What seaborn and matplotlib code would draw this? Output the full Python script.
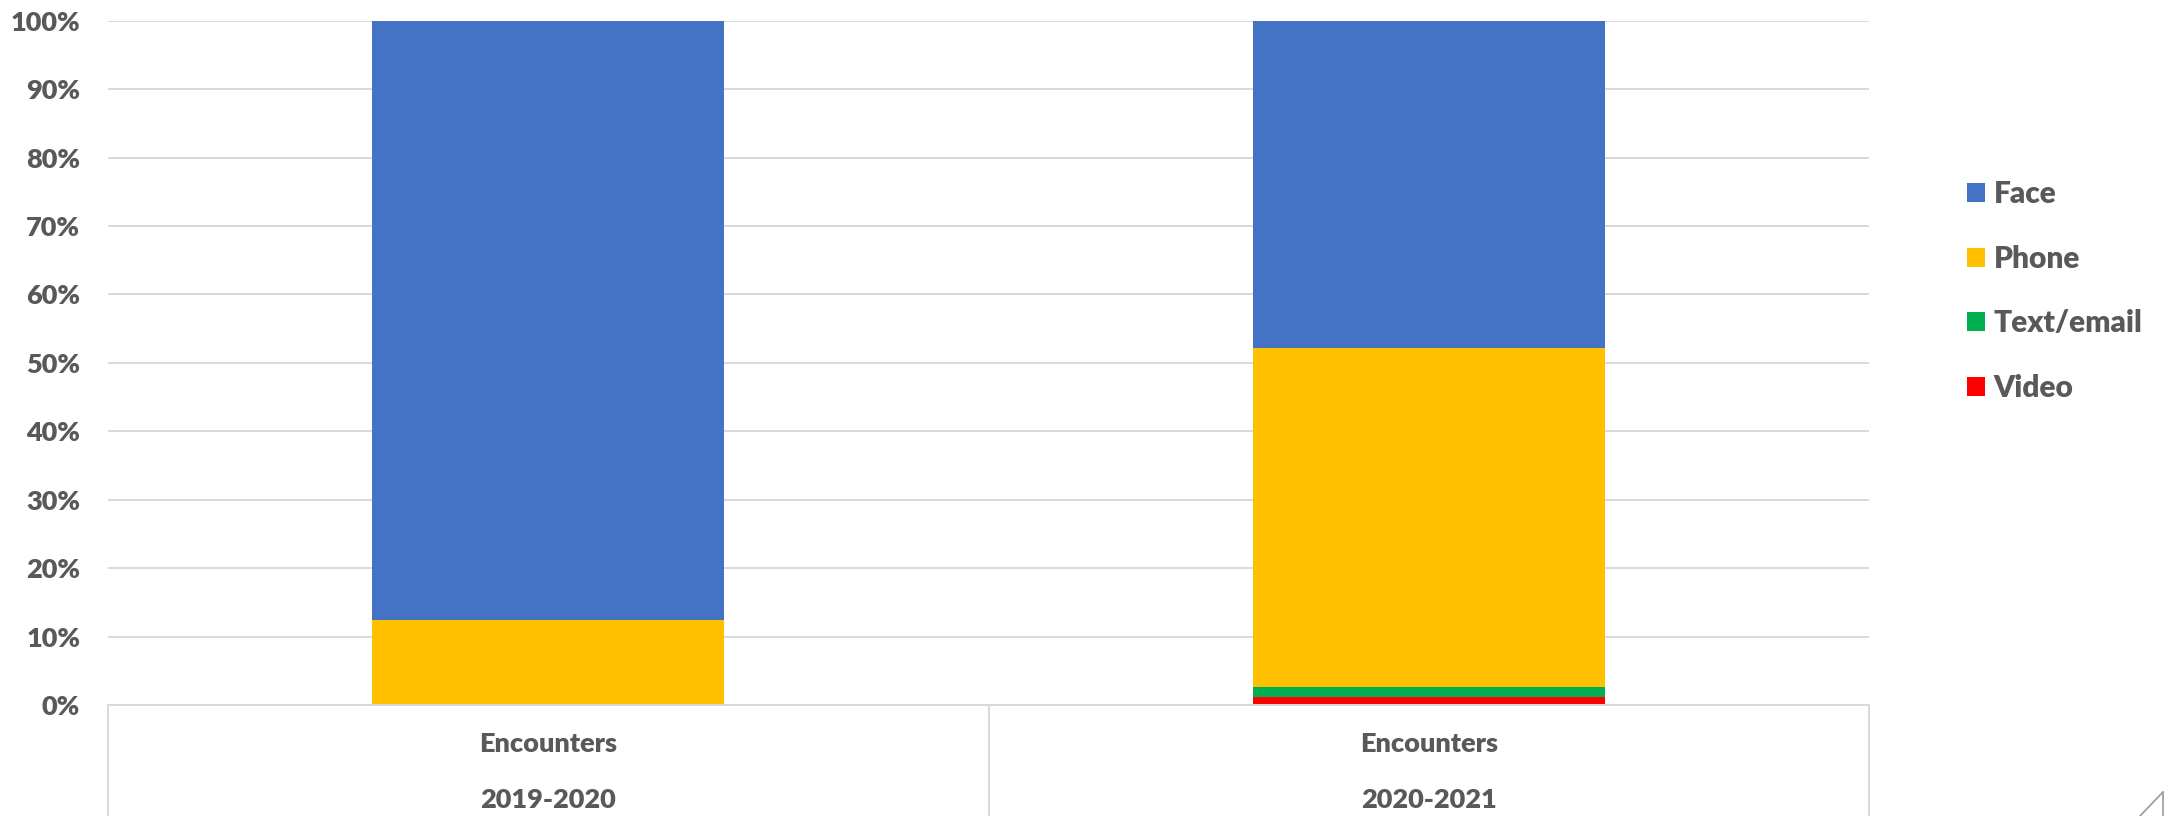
import matplotlib
matplotlib.use("Agg")
import matplotlib.pyplot as plt
import seaborn as sns
import numpy as np
import pandas as pd
from matplotlib.ticker import PercentFormatter
from matplotlib.patches import Patch

# ---- data (shares of encounters) ----
periods = ["2019-2020", "2020-2021"]
category_label = "Encounters"
face = [87.6, 47.9]
phone = [12.2, 49.5]
text_email = [0.2, 1.5]
video = [0.0, 1.1]
series_names = ["Face", "Phone", "Text/email", "Video"]
colors = ["#4472C4", "#FFC000", "#00B050", "#FF0000"]
yticks = [0, 10, 20, 30, 40, 50, 60, 70, 80, 90, 100]

sns.set_theme(style="white")
plt.rcParams["font.family"] = ["Lato", "DejaVu Sans"]
W = "heavy"
plt.rcParams["font.weight"] = W
txt_color = "#595959"

df = pd.DataFrame({"period": periods, "Face": face, "Phone": phone,
                   "Text/email": text_email, "Video": video})
# cumulative heights (drawn from the top series down)
stack_order = ["Video", "Text/email", "Phone", "Face"]
cum = df[stack_order].cumsum(axis=1)

fig = plt.figure(figsize=(21.69, 8.16), dpi=100)
ax = fig.add_axes([108 / 2169, 111 / 816, (1869 - 108) / 2169, (705 - 20.7) / 816])

color_map = dict(zip(series_names, colors))
for name in reversed(stack_order):
    sns.barplot(x=df["period"], y=cum[name], color=color_map[name], width=0.4,
                saturation=1, ax=ax, linewidth=0, order=periods)

ax.set_ylim(0, 100)
ax.set_xlim(-0.5, 1.5)
ax.set_yticks(yticks)
ax.yaxis.set_major_formatter(PercentFormatter(decimals=0))
ax.tick_params(axis="y", length=0, pad=20, labelsize=19.5, labelcolor=txt_color)
ax.set_xticks([])
ax.set_xlabel("")
ax.set_ylabel("")
for lab in ax.get_yticklabels():
    lab.set_fontweight(W)

ax.grid(axis="y", color="#D9D9D9", linewidth=1.4)
ax.set_axisbelow(True)
for s in ax.spines.values():
    s.set_visible(False)

# category axis box lines
ext = -111 / (705 - 20.7)
for xv in [0, 0.5, 1.0]:
    ax.plot([xv, xv], [0, ext], transform=ax.transAxes, color="#D9D9D9",
            lw=1.4, clip_on=False)
ax.plot([0, 1], [0, 0], transform=ax.transAxes, color="#D9D9D9", lw=1.4, clip_on=False)

# two-level category labels
trans = matplotlib.transforms.blended_transform_factory(ax.transData, fig.transFigure)
for i, p in enumerate(periods):
    ax.text(i, 1 - 744 / 816, category_label, transform=trans, ha="center", va="center",
            fontsize=19.5, fontweight=W, color=txt_color)
    ax.text(i, 1 - 800 / 816, p, transform=trans, ha="center", va="center",
            fontsize=19.5, fontweight=W, color=txt_color)

handles = [Patch(facecolor=c, edgecolor="none") for c in colors]
leg = fig.legend(handles, series_names, loc="center left",
                 bbox_to_anchor=(1940 / 2169, 1 - 291 / 816), frameon=False,
                 fontsize=21.5, handlelength=0.6, handleheight=0.6,
                 handletextpad=0.3, labelspacing=1.22)
for t in leg.get_texts():
    t.set_color(txt_color)
    t.set_fontweight(W)

# resize-grip artifact in corner
fig.add_artist(plt.Line2D([2140 / 2169, 2163 / 2169], [0, 24 / 816],
                          transform=fig.transFigure, color="#9a9a9a", lw=1.2))
fig.add_artist(plt.Line2D([2163 / 2169, 2163 / 2169], [0, 24 / 816],
                          transform=fig.transFigure, color="#9a9a9a", lw=1.2))

fig.savefig("out.png", dpi=100)
